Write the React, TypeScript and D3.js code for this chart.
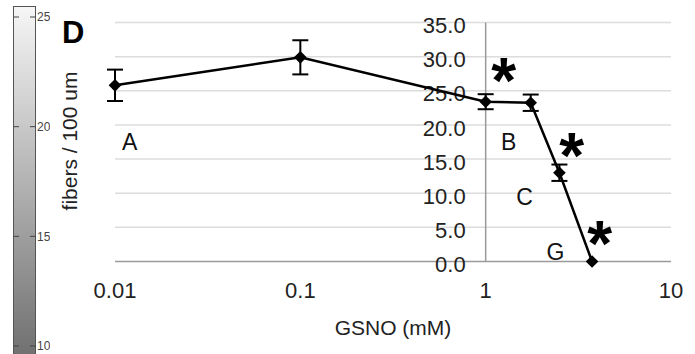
import React, { useEffect, useRef } from "react";
import * as d3 from "d3";

// GSNO dose response (fibers / 100 um)
const doses = [0.01, 0.1, 1, 1.75, 2.5, 3.75];
const fibers = [25.8, 29.9, 23.4, 23.25, 13.0, 0];
const errors = [2.3, 2.5, 1.1, 1.2, 1.2, 0];
const xTicks = [0.01, 0.1, 1, 10];
const yTicks = [0, 5, 10, 15, 20, 25, 30, 35];
const barTicks = ["250", "200", "150", "100"];

// letter groups and significance marks, placed by dose / value
const groups = [
  { label: "A", dose: 0.012, value: 16.3 },
  { label: "B", dose: 1.33, value: 16.3 },
  { label: "C", dose: 1.62, value: 8.3 },
  { label: "G", dose: 2.38, value: 0.2 },
];
const stars = [
  { dose: 1.25, value: 27.8 },
  { dose: 2.91, value: 16.7 },
  { dose: 4.12, value: 3.9 },
];

const FONT = "'Liberation Sans', Arial, Helvetica, sans-serif";

export default function App() {
  const svgRef = useRef(null);
  const width = 695;
  const height = 354;

  useEffect(() => {
    const svg = d3.select(svgRef.current);
    svg.selectAll("*").remove();

    const x = d3.scaleLog().domain([0.01, 10]).range([115, 671]);
    const y = d3.scaleLinear().domain([0, 35]).range([261.5, 22.5]);

    // grayscale colour bar on the far left
    const defs = svg.append("defs");
    const grad = defs
      .append("linearGradient")
      .attr("id", "bar")
      .attr("x1", 0)
      .attr("y1", 0)
      .attr("x2", 0)
      .attr("y2", 1);
    grad.append("stop").attr("offset", "0%").attr("stop-color", "#f6f6f6");
    grad.append("stop").attr("offset", "100%").attr("stop-color", "#6c6c6c");
    defs
      .append("clipPath")
      .attr("id", "barclip")
      .append("rect")
      .attr("x", 0)
      .attr("y", 0)
      .attr("width", 50)
      .attr("height", height);

    const bar = svg.append("g");
    bar
      .append("rect")
      .attr("x", 13.5)
      .attr("y", 6.5)
      .attr("width", 22)
      .attr("height", 360)
      .attr("fill", "url(#bar)")
      .attr("stroke", "#555")
      .attr("stroke-width", 1);
    const barScale = d3.scalePoint().domain(barTicks).range([17, 346]);
    barTicks.forEach((t) => {
      const yy = barScale(t);
      bar.append("line").attr("x1", 14).attr("x2", 19).attr("y1", yy).attr("y2", yy).attr("stroke", "#444");
      bar.append("line").attr("x1", 30).attr("x2", 36).attr("y1", yy).attr("y2", yy).attr("stroke", "#444");
    });
    bar
      .append("g")
      .attr("clip-path", "url(#barclip)")
      .selectAll("text")
      .data(barTicks)
      .enter()
      .append("text")
      .attr("x", 37)
      .attr("y", (d) => barScale(d))
      .attr("dy", "0.35em")
      .attr("font-family", FONT)
      .attr("font-size", 12)
      .attr("fill", "#444")
      .text((d) => d);

    // gridlines
    svg
      .append("g")
      .selectAll("line")
      .data(yTicks.filter((d) => d > 0))
      .enter()
      .append("line")
      .attr("x1", x(0.01))
      .attr("x2", x(10))
      .attr("y1", (d) => y(d))
      .attr("y2", (d) => y(d))
      .attr("stroke", "#dcdcdc")
      .attr("stroke-width", 1.5);

    // axes lines
    svg
      .append("line")
      .attr("x1", x(0.01))
      .attr("x2", x(10))
      .attr("y1", y(0))
      .attr("y2", y(0))
      .attr("stroke", "#9a9a9a")
      .attr("stroke-width", 1.5);
    svg
      .append("line")
      .attr("x1", x(1))
      .attr("x2", x(1))
      .attr("y1", y(35))
      .attr("y2", y(0))
      .attr("stroke", "#9a9a9a")
      .attr("stroke-width", 1.5);

    // y tick labels (left of the axis at x = 1)
    svg
      .append("g")
      .selectAll("text")
      .data(yTicks)
      .enter()
      .append("text")
      .attr("x", x(1) - 20)
      .attr("y", (d) => y(d) + 3)
      .attr("dy", "0.35em")
      .attr("text-anchor", "end")
      .attr("font-family", FONT)
      .attr("font-size", 22)
      .attr("fill", "#222")
      .text((d) => d3.format(".1f")(d));

    // x tick labels
    svg
      .append("g")
      .selectAll("text")
      .data(xTicks)
      .enter()
      .append("text")
      .attr("x", (d) => x(d))
      .attr("y", 298)
      .attr("text-anchor", "middle")
      .attr("font-family", FONT)
      .attr("font-size", 22)
      .attr("fill", "#222")
      .text((d) => String(d));

    svg
      .append("text")
      .attr("x", 393)
      .attr("y", 335)
      .attr("text-anchor", "middle")
      .attr("font-family", FONT)
      .attr("font-size", 21)
      .attr("fill", "#222")
      .text("GSNO (mM)");

    svg
      .append("text")
      .attr("transform", "translate(77,141) rotate(-90)")
      .attr("text-anchor", "middle")
      .attr("font-family", FONT)
      .attr("font-size", 21)
      .attr("fill", "#222")
      .text("fibers / 100 um");

    svg
      .append("text")
      .attr("x", 62)
      .attr("y", 43)
      .attr("font-family", FONT)
      .attr("font-size", 31)
      .attr("font-weight", "bold")
      .attr("fill", "#000")
      .text("D");

    const pts = doses.map((d, i) => ({ dose: d, value: fibers[i], err: errors[i] }));

    // line
    svg
      .append("path")
      .datum(pts)
      .attr("fill", "none")
      .attr("stroke", "#000")
      .attr("stroke-width", 2.5)
      .attr(
        "d",
        d3
          .line()
          .x((d) => x(d.dose))
          .y((d) => y(d.value))
      );

    // error bars
    const eb = svg.append("g").attr("stroke", "#000").attr("stroke-width", 2);
    pts
      .filter((d) => d.err > 0)
      .forEach((d) => {
        const cx = x(d.dose);
        eb.append("line").attr("x1", cx).attr("x2", cx).attr("y1", y(d.value - d.err)).attr("y2", y(d.value + d.err));
        eb.append("line").attr("x1", cx - 8).attr("x2", cx + 8).attr("y1", y(d.value - d.err)).attr("y2", y(d.value - d.err));
        eb.append("line").attr("x1", cx - 8).attr("x2", cx + 8).attr("y1", y(d.value + d.err)).attr("y2", y(d.value + d.err));
      });

    // diamond markers (square turned 45 degrees)
    svg
      .append("g")
      .selectAll("path")
      .data(pts)
      .enter()
      .append("path")
      .attr("transform", (d) => `translate(${x(d.dose)},${y(d.value)}) rotate(45)`)
      .attr("d", d3.symbol().type(d3.symbolSquare).size(80))
      .attr("fill", "#000");

    // group letters
    svg
      .append("g")
      .selectAll("text")
      .data(groups)
      .enter()
      .append("text")
      .attr("x", (d) => x(d.dose))
      .attr("y", (d) => y(d.value))
      .attr("text-anchor", "middle")
      .attr("font-family", FONT)
      .attr("font-size", 23)
      .attr("fill", "#111")
      .text((d) => d.label);

    // asterisks
    svg
      .append("g")
      .selectAll("text")
      .data(stars)
      .enter()
      .append("text")
      .attr("x", (d) => x(d.dose))
      .attr("y", (d) => y(d.value) + 31)
      .attr("text-anchor", "middle")
      .attr("font-family", FONT)
      .attr("font-size", 64)
      .attr("font-weight", "bold")
      .attr("fill", "#000")
      .text("*");
  });

  return (
    <div style={{ position: "absolute", left: 0, top: 0 }}>
      <svg width={width} height={height} ref={svgRef} style={{ display: "block", background: "#fff" }}></svg>
    </div>
  );
}
